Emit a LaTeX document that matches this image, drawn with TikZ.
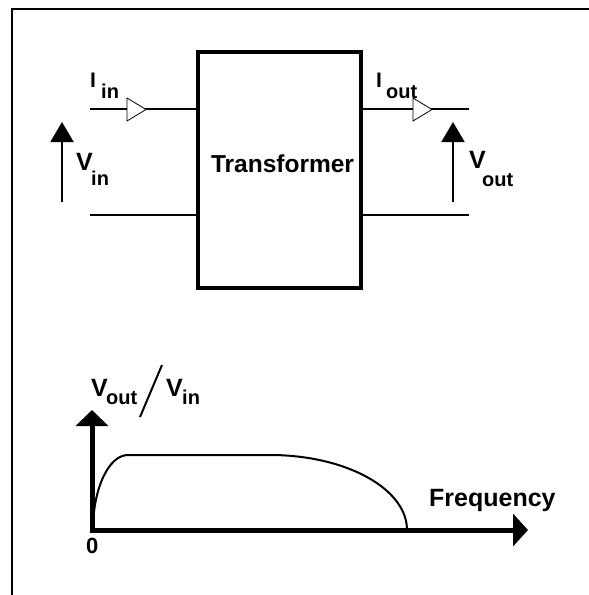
\documentclass[tikz,border=0pt]{standalone}
\usepackage{fontspec}
\setmainfont{Liberation Sans}
\usetikzlibrary{arrows.meta}
\begin{document}
\begin{tikzpicture}[x=1pt,y=-1pt,
  wire/.style={line width=2pt},
  openhead/.style={draw, line width=0.8pt, fill=white},
  varrow/.style={line width=2pt, -{Triangle[length=20pt,width=23pt]}},
  axis/.style={line width=5pt},
  big/.style={anchor=base west, inner sep=0pt, font=\bfseries\fontsize{25}{25}\selectfont},
  mid/.style={anchor=base west, inner sep=0pt, font=\bfseries\fontsize{21}{21}\selectfont},
  sub/.style={anchor=base west, inner sep=0pt, font=\bfseries\fontsize{20}{20}\selectfont},
  box/.style={draw, line width=4pt, minimum width=163pt, minimum height=236pt, inner sep=0pt}]
\useasboundingbox (0,0) rectangle (589,595);
% frame
\draw[line width=2.5pt] (12,595) -- (12,9) -- (589,9);

% transformer block
\node[box] (tr) at (279.5,170) {};
\node[anchor=base, inner sep=0pt, font=\bfseries\fontsize{24.5}{24.5}\selectfont] (trtext) at (282.5,172) {Transformer};

% wires
\coordinate (inT) at (90,109);
\coordinate (inB) at (90,215);
\coordinate (outT) at (469,109);
\coordinate (outB) at (469,215);
\draw[wire] (inT) -- (inT -| tr.west);
\draw[wire] (inB) -- (inB -| tr.west);
\draw[wire] (outT -| tr.east) -- (outT);
\draw[wire] (outB -| tr.east) -- (outB);

% current arrows (open triangles)
\draw[openhead] (127,98) -- (127,121) -- (146,109.5) -- cycle;
\draw[openhead] (413,98) -- (413,121) -- (432,109.5) -- cycle;

% voltage arrows
\coordinate (vinB) at (62,202);
\coordinate (vinT) at (62,122);
\coordinate (voutB) at (453,202);
\coordinate (voutT) at (453,122);
\draw[varrow] (vinB) -- (vinT);
\draw[varrow] (voutB) -- (voutT);

% labels
\node[mid] (Iin) at (90,87) {I};
\node[sub] (Iinsub) at (101,98) {in};
\node[mid] (Iout) at (376,87) {I};
\node[sub] (Ioutsub) at (386,98) {out};
\node[big] (Vin) at (76,170) {V};
\node[sub] (Vinsub) at (91,185) {in};
\node[big] (Vout) at (469,168) {V};
\node[sub] (Voutsub) at (482,186) {out};

% graph
\coordinate (org) at (92,530);
\coordinate (ytip) at (92,410);
\coordinate (xtip) at (528,530);
\draw[axis, {Triangle[length=16pt,width=32pt]}-{Triangle[length=15pt,width=32pt]}] (ytip) -- (org) -- (xtip);
\draw[line width=2pt] (93,530) arc[start angle=180, end angle=270, x radius=35, y radius=75]
   -- (270,455) arc[start angle=270, end angle=360, x radius=137, y radius=75];

\node[big] (Vo) at (91,396) {V};
\node[sub] (Vosub) at (106,404) {out};
\coordinate (slA) at (162,365);
\coordinate (slB) at (140,417);
\draw[wire] (slA) -- (slB);
\node[big] (Vi) at (166,396) {V};
\node[sub] (Visub) at (182,404) {in};

\node[anchor=base west, inner sep=0pt, font=\bfseries\fontsize{22}{22}\selectfont] (zero) at (86,553) {0};
\node[big] (freq) at (429,506) {Frequency};
\end{tikzpicture}
\end{document}
